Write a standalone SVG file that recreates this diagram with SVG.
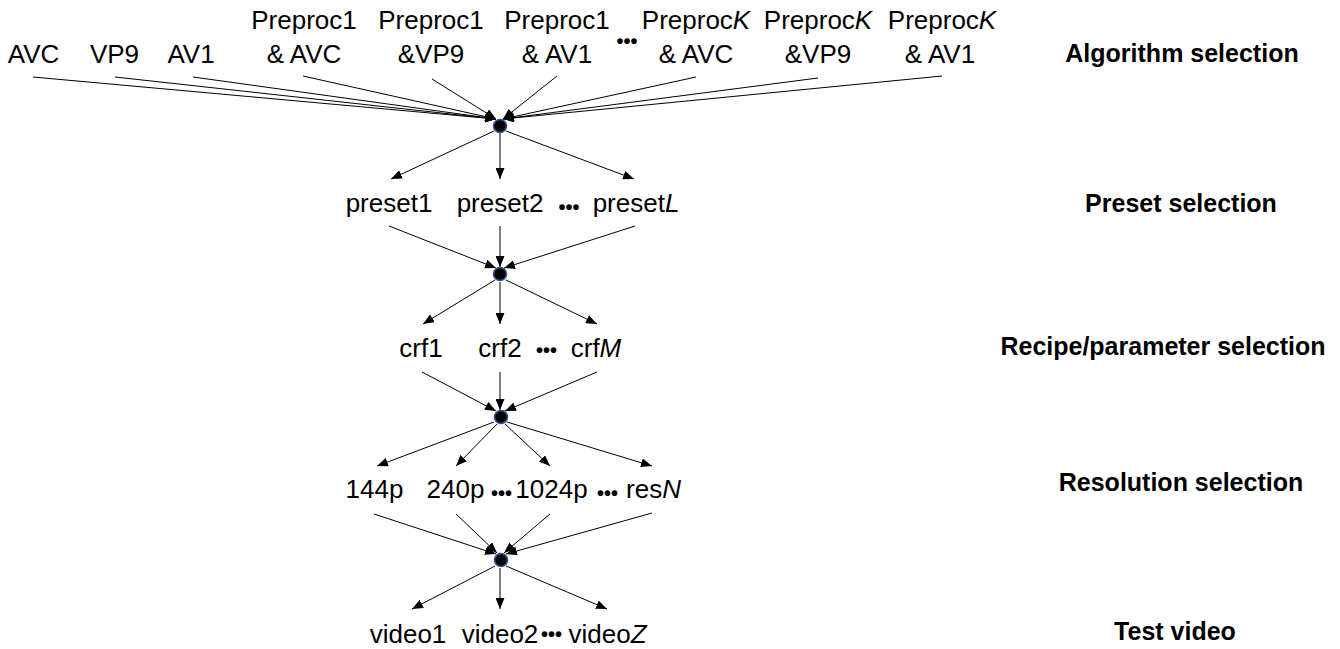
<svg xmlns="http://www.w3.org/2000/svg" width="1340" height="649" viewBox="0 0 1340 649">
<defs>
<marker id="ah" markerUnits="userSpaceOnUse" markerWidth="11" markerHeight="9" refX="11" refY="4.5" orient="auto">
<path d="M0,0 L11,4.5 L0,9 z" fill="#000"/>
</marker>
<style>
.t{font-family:"Liberation Sans",Arial,sans-serif;font-size:26px;fill:#000;text-anchor:middle}
.b{font-family:"Liberation Sans",Arial,sans-serif;font-size:25px;font-weight:bold;fill:#000;text-anchor:middle}
.d{font-family:"Liberation Sans",Arial,sans-serif;font-size:20px;font-weight:bold;fill:#000;text-anchor:middle}
.i{font-style:italic}
.c line{stroke:#000;stroke-width:1;marker-end:url(#ah)}
.n{fill:#050505;stroke:#2f5597;stroke-width:1.5}
</style>
</defs>
<rect width="1340" height="649" fill="#fff"/>

<g id="connectors" class="c">
<line x1="33" y1="77" x2="496" y2="119"/>
<line x1="115" y1="77" x2="496" y2="119"/>
<line x1="193" y1="77" x2="496" y2="119"/>
<line x1="303" y1="76" x2="496" y2="119"/>
<line x1="432" y1="79" x2="496" y2="119"/>
<line x1="557" y1="76" x2="503" y2="119"/>
<line x1="696" y1="77" x2="503" y2="119"/>
<line x1="818" y1="78" x2="503" y2="119"/>
<line x1="942" y1="76" x2="503" y2="119"/>

<line x1="494" y1="131" x2="391" y2="179"/>
<line x1="500" y1="133" x2="500" y2="179"/>
<line x1="506" y1="131" x2="634" y2="179"/>

<line x1="389" y1="226" x2="496" y2="268"/>
<line x1="500" y1="226" x2="500" y2="267"/>
<line x1="635" y1="226" x2="504" y2="268"/>

<line x1="495" y1="280" x2="423" y2="324"/>
<line x1="500" y1="282" x2="500" y2="324"/>
<line x1="506" y1="280" x2="597" y2="324"/>

<line x1="422" y1="372" x2="496" y2="411"/>
<line x1="500" y1="372" x2="500" y2="410"/>
<line x1="597" y1="372" x2="505" y2="411"/>

<line x1="494" y1="422" x2="377" y2="466"/>
<line x1="497" y1="424" x2="456" y2="466"/>
<line x1="505" y1="424" x2="550" y2="466"/>
<line x1="507" y1="422" x2="652" y2="466"/>

<line x1="374" y1="514" x2="496" y2="554"/>
<line x1="456" y1="514" x2="497" y2="553"/>
<line x1="550" y1="514" x2="504" y2="553"/>
<line x1="652" y1="513" x2="506" y2="554"/>

<line x1="495" y1="566" x2="412" y2="609"/>
<line x1="500" y1="568" x2="500" y2="609"/>
<line x1="506" y1="566" x2="607" y2="609"/>
</g>

<g id="junction1"><circle class="n" cx="500" cy="126" r="6.5"/></g>
<g id="junction2"><circle class="n" cx="500" cy="274" r="6.5"/></g>
<g id="junction3"><circle class="n" cx="501" cy="417" r="6.5"/></g>
<g id="junction4"><circle class="n" cx="501" cy="560" r="6.5"/></g>

<g id="algorithms">
<text class="t" x="33.5" y="63">AVC</text>
<text class="t" x="114.5" y="63">VP9</text>
<text class="t" x="191" y="63">AV1</text>
<text class="t" x="304" y="29">Preproc1</text>
<text class="t" x="304" y="63">&amp; AVC</text>
<text class="t" x="431" y="29">Preproc1</text>
<text class="t" x="431" y="63">&amp;VP9</text>
<text class="t" x="557" y="29">Preproc1</text>
<text class="t" x="557" y="63">&amp; AV1</text>
<text class="d" x="627" y="48">•••</text>
<text class="t" x="696" y="29">Preproc<tspan class="i">K</tspan></text>
<text class="t" x="696" y="63">&amp; AVC</text>
<text class="t" x="818" y="29">Preproc<tspan class="i">K</tspan></text>
<text class="t" x="818" y="63">&amp;VP9</text>
<text class="t" x="942" y="29">Preproc<tspan class="i">K</tspan></text>
<text class="t" x="940" y="63">&amp; AV1</text>
</g>

<g id="presets">
<text class="t" x="389" y="212">preset1</text>
<text class="t" x="500" y="212">preset2</text>
<text class="d" x="569" y="214">•••</text>
<text class="t" x="636" y="212">preset<tspan class="i">L</tspan></text>
</g>

<g id="crfs">
<text class="t" x="421" y="357">crf1</text>
<text class="t" x="500" y="357">crf2</text>
<text class="d" x="546.5" y="357">•••</text>
<text class="t" x="596" y="357">crf<tspan class="i">M</tspan></text>
</g>

<g id="resolutions">
<text class="t" x="374.5" y="498">144p</text>
<text class="t" x="455.5" y="498">240p</text>
<text class="d" x="501.5" y="500">•••</text>
<text class="t" x="551.5" y="498">1024p</text>
<text class="d" x="607.5" y="500">•••</text>
<text class="t" x="653.5" y="498">res<tspan class="i">N</tspan></text>
</g>

<g id="videos">
<text class="t" x="408" y="643">video1</text>
<text class="t" x="500" y="643">video2</text>
<text class="d" x="551.5" y="641">•••</text>
<text class="t" x="607.5" y="643">video<tspan class="i">Z</tspan></text>
</g>

<g id="stage-labels">
<text class="b" x="1182" y="62">Algorithm selection</text>
<text class="b" x="1181" y="212">Preset selection</text>
<text class="b" x="1163" y="355">Recipe/parameter selection</text>
<text class="b" x="1181" y="491">Resolution selection</text>
<text class="b" x="1175" y="640">Test video</text>
</g>
</svg>
